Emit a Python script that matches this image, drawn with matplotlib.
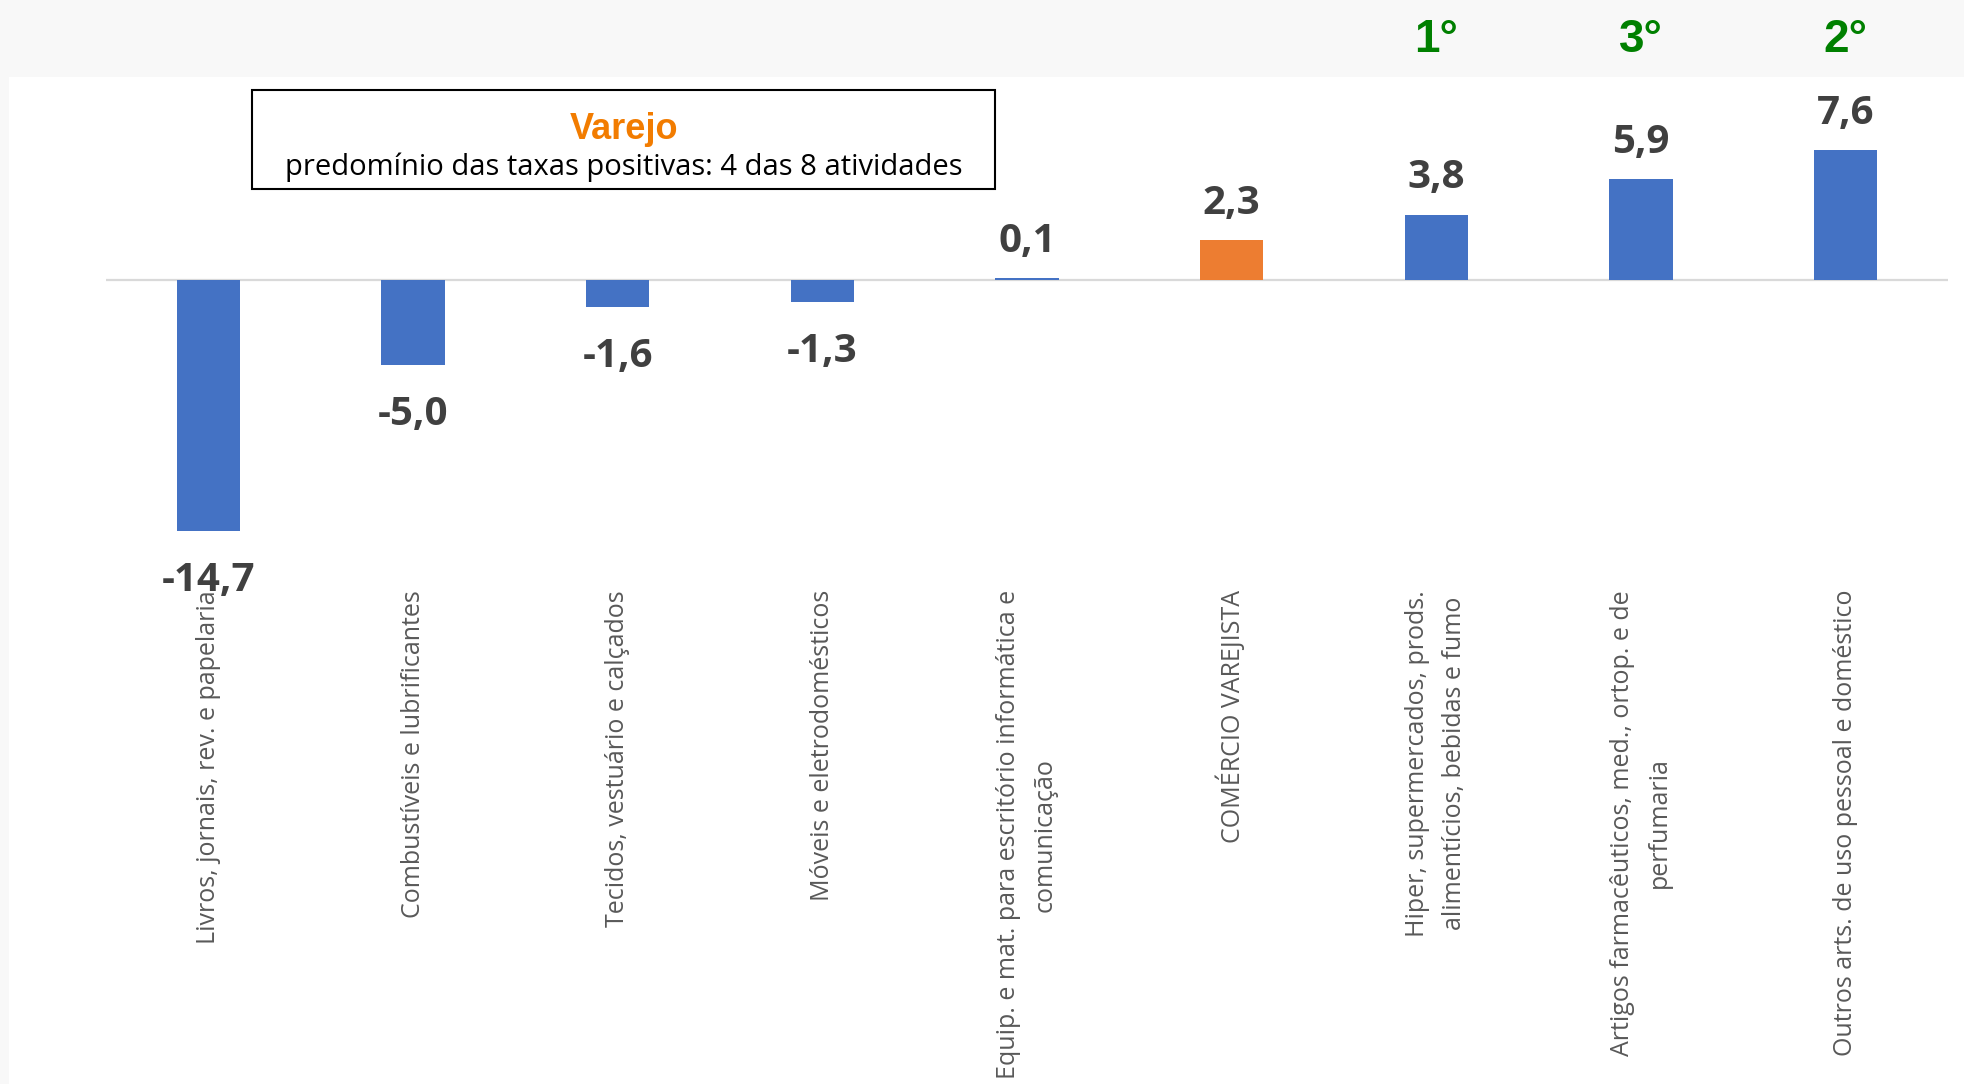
import matplotlib
matplotlib.use('Agg')
import matplotlib.pyplot as plt
from matplotlib.patches import Rectangle
from matplotlib.transforms import blended_transform_factory

# dados
categorias = [
    'Livros, jornais, rev. e papelaria',
    'Combustíveis e lubrificantes',
    'Tecidos, vestuário e calçados',
    'Móveis e eletrodomésticos',
    'Equip. e mat. para escritório informática e\ncomunicação',
    'COMÉRCIO VAREJISTA',
    'Hiper, supermercados, prods.\nalimentícios, bebidas e fumo',
    'Artigos farmacêuticos, med., ortop. e de\nperfumaria',
    'Outros arts. de uso pessoal e doméstico',
]
variacao = [-14.7, -5.0, -1.6, -1.3, 0.1, 2.3, 3.8, 5.9, 7.6]
ranking = ['', '', '', '', '', '', '1°', '3°', '2°']
destaque = 'COMÉRCIO VAREJISTA'
titulo = 'Varejo'
subtitulo = 'predomínio das taxas positivas: 4 das 8 atividades'

W, H = 1964, 1084
fig = plt.figure(figsize=(W / 100, H / 100), dpi=100, facecolor='#f8f8f8')

# painel branco
fig.add_artist(Rectangle((9 / W, 0), 1 - 9 / W, 1 - 77 / H, transform=fig.transFigure,
                         facecolor='white', edgecolor='none', zorder=-1))

ax = fig.add_axes([106 / W, 1 - 553 / H, 1842 / W, 427 / H])
ax.set_xlim(-0.5, 8.5)
ax.set_ylim(-16, 9)
ax.axis('off')

x = list(range(len(categorias)))
cores = ['#ED7D31' if c == destaque else '#4472C4' for c in categorias]
ax.bar(x, variacao, width=0.31, color=cores, zorder=2)
ax.axhline(0, color='#d9d9d9', lw=1.6, zorder=1)

for xi, v in zip(x, variacao):
    txt = f'{v:.1f}'.replace('.', ',')
    dy = 19 if v >= 0 else -43
    ax.annotate(txt, (xi, v), xytext=(0, dy), textcoords='offset points',
                ha='center', va='baseline', fontsize=29, fontweight='bold',
                color='#404040', family=['Open Sans', 'DejaVu Sans'],
                annotation_clip=False, zorder=3)

trans = blended_transform_factory(ax.transData, fig.transFigure)
for xi, c in zip(x, categorias):
    ax.text(xi, 1 - 590 / H, c, transform=trans, rotation=90, ha='center', va='top',
            multialignment='center', fontsize=18, color='#595959',
            family=['Open Sans', 'DejaVu Sans'], linespacing=1.62, clip_on=False, zorder=4)

for xi, r in zip(x, ranking):
    if r:
        ax.text(xi, 1 - 52 / H, r, transform=trans, ha='center', va='baseline',
                fontsize=33, fontweight='bold', color='#008000',
                family=['Liberation Sans', 'DejaVu Sans'], clip_on=False)

# caixa de destaque
fig.add_artist(Rectangle((252 / W, 1 - 189 / H), 743 / W, 99 / H, transform=fig.transFigure,
                         fill=False, edgecolor='black', lw=1.5, zorder=5))
fig.text(623.5 / W, 1 - 139 / H, titulo, ha='center', va='baseline', fontsize=26,
         fontweight='bold', color='#F27C00', family=['Liberation Sans', 'DejaVu Sans'])
fig.text(623.5 / W, 1 - 175 / H, subtitulo, ha='center', va='baseline', fontsize=21,
         color='black', family=['Open Sans', 'DejaVu Sans'])

fig.savefig('out.png', dpi=100, facecolor=fig.get_facecolor())
